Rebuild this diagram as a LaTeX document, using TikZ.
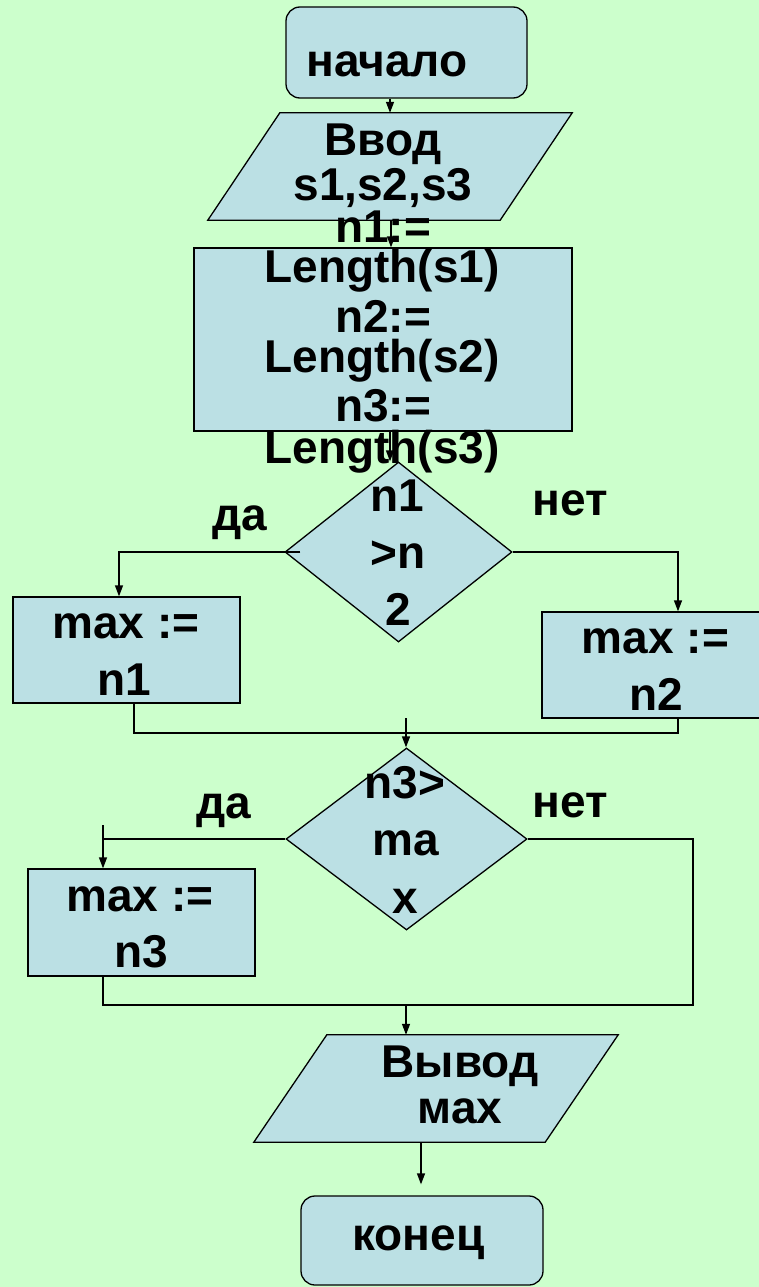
\documentclass[tikz,border=0pt]{standalone}
\usepackage{fontspec}
\setmainfont{Liberation Sans}
\usetikzlibrary{arrows.meta,shapes.geometric,calc}
\definecolor{bg}{RGB}{204,255,204}
\definecolor{shp}{RGB}{187,224,228}
\begin{document}
\begin{tikzpicture}[x=1pt,y=-1pt,
  fig/.style={draw=black, fill=shp, line width=1.3pt},
  box/.style={fig, rectangle, inner sep=0pt},
  term/.style={box, rounded corners=14pt},
  frame/.style={rectangle, draw=none, inner sep=0pt},
  dec/.style={fig, diamond, inner sep=0pt},
  txt/.style={anchor=base, inner sep=0pt, font=\fontsize{46}{46}\selectfont\bfseries},
  wire/.style={draw=black, line width=1.3pt},
  arr/.style={wire, -{Triangle[length=11pt,width=8pt]}}]
\path[fill=bg] (0,0) rectangle (759,1287);
\useasboundingbox (0,0) rectangle (759,1287);
\clip (0,0) rectangle (759,1287);

% shapes
\node[term, minimum width=241pt, minimum height=91pt] (start) at (406.5,52.5) {};
\node[frame, minimum width=364pt, minimum height=107pt] (inp) at (390,166.5) {};
\draw[fig] ($(inp.north west)+(72,0)$) -- (inp.north east) -- ($(inp.south east)+(-72,0)$) -- (inp.south west) -- cycle;
\node[box, minimum width=378pt, minimum height=183pt] (assign) at (383,339.5) {};
\node[dec, minimum width=227pt, minimum height=180pt] (d1) at (398.5,552) {};
\node[box, minimum width=227pt, minimum height=106pt] (box1) at (126.5,650) {};
\node[box, minimum width=227pt, minimum height=106pt] (box2) at (655.5,665) {};
\node[dec, minimum width=241pt, minimum height=182pt] (d2) at (406.5,839) {};
\node[box, minimum width=227pt, minimum height=107pt] (box3) at (141.5,922.5) {};
\node[frame, minimum width=364pt, minimum height=107pt] (out) at (436,1088.5) {};
\draw[fig] ($(out.north west)+(73,0)$) -- (out.north east) -- ($(out.south east)+(-73,0)$) -- (out.south west) -- cycle;
\node[term, minimum width=242pt, minimum height=89pt] (end) at (422,1240.5) {};

% helper coordinates
\coordinate (xa) at (390,0);
\coordinate (xb) at (391,0);
\coordinate (xl1) at (119,0);
\coordinate (xr1) at (678,0);
\coordinate (xm1) at (134,0);
\coordinate (xl2) at (103,0);
\coordinate (xr2) at (693,0);
\coordinate (xc2) at (406,0);
\coordinate (xo) at (421,0);
\coordinate (ym1) at (0,733);
\coordinate (ym2) at (0,1005);
\coordinate (j1) at (406,718);
\coordinate (j2) at (103,825);

% connectors
\draw[arr] (start.south -| xa) -- (inp.north -| xa);
\draw[arr] (inp.south -| xb) -- (assign.north -| xb);
\draw[arr] (assign.south -| xa) -- (d1.north -| xa);
\draw[arr] ($(d1.west)+(16,0)$) -| (box1.north -| xl1);
\draw[arr] (d1.east) -| (box2.north -| xr1);
\draw[wire] (box1.south -| xm1) |- (ym1 -| xr1) -- (box2.south -| xr1);
\draw[arr] (j1) -- (d2.north -| j1);
\draw[wire] (d2.west) -- (d2.west -| xl2);
\draw[arr] (j2) -- (box3.north -| j2);
\draw[wire] (d2.east) -| (ym2 -| xr2) -- (ym2 -| xl2) -- (box3.south -| xl2);
\draw[arr] (ym2 -| xc2) -- (out.north -| xc2);
\draw[arr, shorten >=11pt] (out.south -| xo) -- (end.north -| xo);

% texts
\node[txt] (tstart) at (387,77) {начало};
\node[txt] (tin1) at (383,155) {Ввод};
\node[txt] (tin2) at (383,200) {s1,s2,s3};
\node[txt] (ta1) at (383,242) {n1:=};
\node[txt] (ta2) at (382,282) {Length(s1)};
\node[txt] (ta3) at (383,332) {n2:=};
\node[txt] (ta4) at (382,372) {Length(s2)};
\node[txt] (ta5) at (383,421) {n3:=};
\node[txt] (ta6) at (382,463) {Length(s3)};
\node[txt] (td11) at (397,511) {n1};
\node[txt] (td12) at (398,568) {>n};
\node[txt] (td13) at (398,625) {2};
\node[txt] (tyes1) at (240,530) {да};
\node[txt] (tno1) at (570,515) {нет};
\node[txt] (tb11) at (126,638) {max :=};
\node[txt] (tb12) at (124,695) {n1};
\node[txt] (tb21) at (655.5,653) {max :=};
\node[txt] (tb22) at (656,710) {n2};
\node[txt] (td21) at (405,798) {n3>};
\node[txt] (td22) at (405.5,855) {ma};
\node[txt] (td23) at (405,913) {x};
\node[txt] (tyes2) at (224,818) {да};
\node[txt] (tno2) at (570,817) {нет};
\node[txt] (tb31) at (140,911) {max :=};
\node[txt] (tb32) at (141,967) {n3};
\node[txt] (tout1) at (460,1077) {Вывод};
\node[txt] (tout2) at (460,1123) {мах};
\node[txt] (tend) at (418.5,1250) {конец};
\end{tikzpicture}
\end{document}
